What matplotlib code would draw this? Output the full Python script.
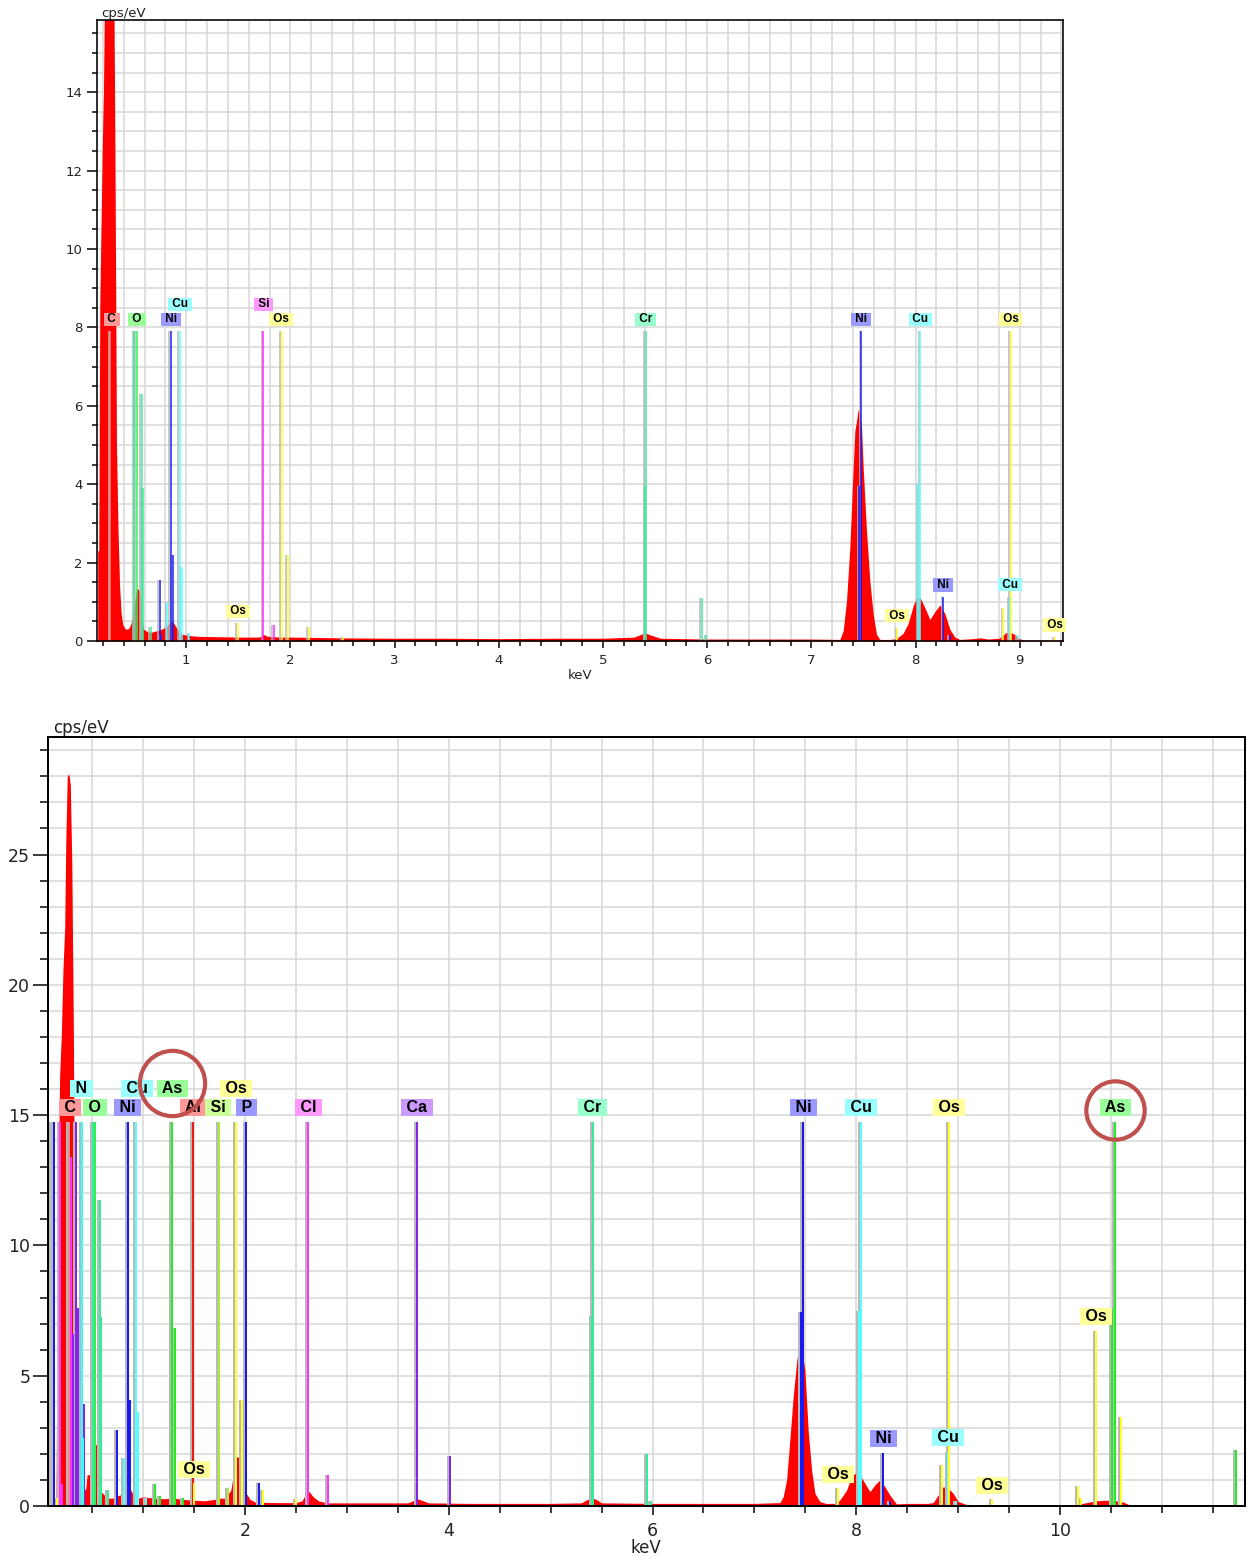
import matplotlib
matplotlib.use("Agg")
import matplotlib.pyplot as plt
from matplotlib import transforms
from matplotlib.ticker import MultipleLocator

# ---------------------------------------------------------------- data
# top spectrum (keV, cps/eV)
top_spectrum = [
    (0.150, 2.3), (0.160, 2.3), (0.170, 8.6), (0.185, 11.2), (0.195, 12.8),
    (0.205, 14.0), (0.215, 16.5), (0.240, 21.0), (0.270, 24.0), (0.290, 21.0),
    (0.305, 16.5), (0.315, 12.7), (0.330, 5.0), (0.345, 2.8), (0.360, 1.4),
    (0.375, 0.7), (0.390, 0.42), (0.410, 0.32), (0.430, 0.30), (0.450, 0.33),
    (0.470, 0.45), (0.490, 0.75), (0.510, 1.1), (0.525, 1.35), (0.545, 1.3),
    (0.560, 1.15), (0.575, 0.5), (0.590, 0.3), (0.620, 0.25), (0.660, 0.22),
    (0.700, 0.25), (0.740, 0.28), (0.780, 0.32), (0.820, 0.40), (0.860, 0.52),
    (0.880, 0.45), (0.910, 0.32), (0.950, 0.18), (1.000, 0.15), (1.100, 0.12),
    (1.300, 0.11), (1.500, 0.10), (1.700, 0.10), (1.740, 0.17), (1.780, 0.12),
    (1.900, 0.10), (2.000, 0.10), (2.500, 0.08), (3.000, 0.07), (3.500, 0.07),
    (4.000, 0.06), (4.500, 0.07), (5.000, 0.07), (5.300, 0.10), (5.400, 0.21),
    (5.460, 0.15), (5.550, 0.07), (6.000, 0.05), (6.500, 0.05), (7.000, 0.05),
    (7.273, 0.04), (7.305, 0.26), (7.337, 1.02), (7.369, 2.38), (7.401, 4.42),
    (7.417, 5.36), (7.433, 5.61), (7.449, 5.91), (7.465, 5.82), (7.481, 5.44),
    (7.497, 4.42), (7.529, 2.81), (7.561, 1.53), (7.593, 0.68), (7.625, 0.17),
    (7.657, 0.04), (7.750, 0.04), (7.817, 0.06), (7.881, 0.20), (7.929, 0.45),
    (7.977, 0.90), (8.009, 1.10), (8.041, 1.12), (8.089, 0.85), (8.137, 0.55),
    (8.185, 0.75), (8.233, 0.92), (8.281, 0.70), (8.329, 0.30), (8.377, 0.10),
    (8.425, 0.04), (8.550, 0.06), (8.620, 0.08), (8.700, 0.05), (8.800, 0.07),
    (8.840, 0.15), (8.870, 0.22), (8.910, 0.22), (8.950, 0.17), (8.990, 0.06),
    (9.050, 0.02), (9.415, 0.02),
]

# top element marker lines
top_lines_element = ['C', 'Cr', 'O', 'Cr', 'Cr', 'Cr', 'Ni', 'Ni', 'Ni', 'Ni',
                     'Cu', 'Cu', 'Cu', 'Cu', 'Os', 'Si', 'Si', 'Os', 'Os', 'Os',
                     'Os', 'Cr', 'Cr', 'Cr', 'Cr', 'Ni', 'Ni', 'Ni', 'Ni',
                     'Cu', 'Cu', 'Cu', 'Cu', 'Os', 'Os', 'Os', 'Os']
top_lines_keV = [0.272, 0.500, 0.525, 0.573, 0.583, 0.658, 0.744, 0.760, 0.850, 0.872,
                 0.818, 0.936, 0.958, 1.030, 1.495, 1.741, 1.840, 1.917, 1.974, 2.176,
                 2.500, 5.405, 5.412, 5.946, 5.990, 7.461, 7.478, 8.265, 8.330,
                 8.028, 8.047, 8.905, 8.980, 7.822, 8.840, 8.912, 9.335]
top_lines_height = [7.9, 7.9, 7.9, 6.3, 3.9, 0.35, 1.55, 0.15, 7.9, 2.2,
                    1.0, 7.9, 1.9, 0.2, 0.45, 7.9, 0.4, 7.9, 2.2, 0.35,
                    0.1, 3.95, 7.9, 1.09, 0.15, 3.95, 7.9, 1.12, 0.15,
                    4.0, 7.9, 1.13, 0.15, 0.34, 0.84, 7.9, 0.1]

# top labels
top_labels_element = ['C', 'O', 'Ni', 'Cu', 'Si', 'Os', 'Os', 'Cr', 'Ni', 'Cu',
                      'Os', 'Os', 'Ni', 'Cu', 'Os']
top_labels_keV = [0.285, 0.527, 0.855, 0.940, 1.741, 1.910, 1.495, 5.412, 7.478, 8.047,
                  8.912, 7.822, 8.265, 8.905, 9.335]
top_labels_height = [7.9, 7.9, 7.9, 7.9, 7.9, 7.9, 0.45, 7.9, 7.9, 7.9,
                     7.9, 0.34, 1.12, 1.13, 0.1]
top_labels_row = [0, 0, 0, 1, 1, 0, 0, 0, 0, 0, 0, 0, 0, 0, 0]

# bottom spectrum (keV, cps/eV)
bottom_spectrum = [
    (0.066, 0.6), (0.090, 0.6), (0.100, 0.3), (0.145, 0.3), (0.160, 10.3),
    (0.180, 16.5), (0.197, 18.1), (0.213, 20.6), (0.230, 22.2), (0.240, 25.4),
    (0.255, 28.0), (0.270, 28.1), (0.285, 27.7), (0.300, 24.6), (0.315, 18.3),
    (0.330, 8.0), (0.345, 3.0), (0.360, 1.2), (0.375, 1.1), (0.390, 0.75),
    (0.420, 0.70), (0.435, 0.60), (0.450, 1.2), (0.478, 1.2), (0.500, 2.0),
    (0.528, 2.4), (0.550, 2.3), (0.570, 0.55), (0.600, 0.50), (0.650, 0.30),
    (0.700, 0.30), (0.750, 0.40), (0.800, 0.45), (0.850, 0.60), (0.870, 0.68),
    (0.900, 0.45), (0.950, 0.30), (1.000, 0.35), (1.100, 0.30), (1.200, 0.28),
    (1.300, 0.30), (1.400, 0.25), (1.500, 0.22), (1.600, 0.20), (1.700, 0.25),
    (1.750, 0.30), (1.800, 0.30), (1.860, 0.60), (1.890, 1.3), (1.920, 1.9),
    (1.950, 1.85), (1.980, 1.35), (2.010, 0.50), (2.050, 0.25), (2.100, 0.15),
    (2.300, 0.13), (2.500, 0.13), (2.560, 0.20), (2.600, 0.50), (2.630, 0.55),
    (2.670, 0.35), (2.720, 0.20), (2.800, 0.12), (3.000, 0.12), (3.300, 0.12),
    (3.600, 0.12), (3.660, 0.22), (3.700, 0.27), (3.750, 0.20), (3.800, 0.12),
    (4.200, 0.10), (4.600, 0.10), (5.000, 0.10), (5.300, 0.12), (5.360, 0.25),
    (5.400, 0.32), (5.450, 0.25), (5.500, 0.12), (6.000, 0.10), (6.500, 0.10),
    (7.000, 0.10), (7.250, 0.13), (7.283, 0.36), (7.316, 1.0), (7.348, 2.53),
    (7.381, 4.2), (7.414, 5.5), (7.440, 6.3), (7.463, 6.1), (7.496, 5.2),
    (7.528, 2.9), (7.561, 1.4), (7.594, 0.49), (7.643, 0.17), (7.700, 0.10),
    (7.800, 0.10), (7.839, 0.23), (7.905, 0.61), (7.954, 1.13), (7.987, 1.25),
    (8.036, 1.19), (8.085, 0.87), (8.134, 0.55), (8.183, 0.81), (8.232, 1.0),
    (8.281, 0.74), (8.330, 0.42), (8.395, 0.08), (8.500, 0.10), (8.700, 0.10),
    (8.755, 0.13), (8.804, 0.42), (8.853, 0.74), (8.902, 0.68), (8.951, 0.49),
    (9.000, 0.17), (9.080, 0.06), (9.500, 0.05), (10.000, 0.05), (10.150, 0.05),
    (10.250, 0.12), (10.350, 0.20), (10.450, 0.22), (10.550, 0.20), (10.620, 0.15),
    (10.680, 0.05), (11.000, 0.03), (11.816, 0.02),
]

# bottom element marker lines
bottom_lines_element = ['gray', 'P', 'Os', 'Cl', 'Cl', 'C', 'Cl', 'Ca', 'Ca', 'Ca',
                        'Ca', 'N', 'N', 'Cr', 'O', 'O', 'Cr', 'Cr', 'Cr',
                        'Ni', 'Ni', 'Ni', 'Cu', 'Cu', 'Cu', 'Cu',
                        'As', 'As', 'As', 'As', 'As', 'Al', 'Os', 'Si', 'Si',
                        'Os', 'Os', 'P', 'P', 'Os', 'Os', 'Cl', 'Cl', 'Cl',
                        'Ca', 'Ca', 'Cr', 'Cr', 'Cr', 'Cr',
                        'Ni', 'Ni', 'Ni', 'Ni', 'Os', 'Cu', 'Cu', 'Cu', 'Cu',
                        'Os', 'Os', 'Os', 'Os', 'Os', 'Os', 'Os', 'Os',
                        'As', 'As', 'As']
bottom_lines_keV = [0.093, 0.128, 0.158, 0.185, 0.200, 0.277, 0.296, 0.315, 0.341, 0.357,
                    0.423, 0.397, 0.410, 0.505, 0.525, 0.530, 0.573, 0.583, 0.652,
                    0.747, 0.851, 0.868, 0.811, 0.930, 0.950, 1.030,
                    1.120, 1.166, 1.282, 1.317, 1.390, 1.486, 1.502, 1.740, 1.836,
                    1.910, 1.975, 2.013, 2.139, 2.180, 2.500, 2.617, 2.622, 2.815,
                    3.690, 4.012, 5.405, 5.412, 5.946, 5.990,
                    7.460, 7.478, 8.264, 8.330, 7.822, 8.027, 8.047, 8.905, 8.980,
                    8.840, 8.912, 9.335, 10.178, 10.210, 10.355, 10.510, 10.600,
                    10.508, 10.544, 11.726]
bottom_lines_height = [14.75, 14.75, 0.3, 14.75, 0.85, 14.75, 13.4, 6.6, 14.75, 7.6,
                       3.9, 14.75, 2.6, 14.75, 14.75, 2.4, 11.75, 7.26, 0.6,
                       2.9, 14.75, 4.07, 1.83, 14.75, 3.62, 0.3,
                       0.85, 0.38, 14.75, 6.83, 0.3, 14.75, 0.87, 14.75, 0.7,
                       14.75, 4.07, 14.75, 0.9, 0.6, 0.25, 7.4, 14.75, 1.2,
                       14.75, 1.9, 7.3, 14.75, 2.0, 0.2,
                       7.45, 14.75, 2.05, 0.2, 0.68, 7.5, 14.75, 2.08, 0.2,
                       1.57, 14.75, 0.25, 0.77, 0.3, 6.73, 1.13, 3.4,
                       7.55, 14.75, 2.15]

# bottom labels
bottom_labels_element = ['N', 'C', 'O', 'Ni', 'Cu', 'As', 'Al', 'Si', 'Os', 'P',
                         'Cl', 'Ca', 'Cr', 'Ni', 'Cu', 'Os', 'As',
                         'Os', 'Os', 'Ni', 'Cu', 'Os', 'Os']
bottom_labels_keV = [0.397, 0.284, 0.527, 0.850, 0.937, 1.287, 1.490, 1.738, 1.909, 2.017,
                     2.622, 3.690, 5.410, 7.478, 8.047, 8.912, 10.544,
                     1.502, 7.822, 8.264, 8.900, 9.335, 10.355]
bottom_labels_height = [14.75, 14.75, 14.75, 14.75, 14.75, 14.75, 14.75, 14.75, 14.75, 14.75,
                        14.75, 14.75, 14.75, 14.75, 14.75, 14.75, 14.75,
                        0.87, 0.68, 2.05, 2.08, 0.25, 6.73]
bottom_labels_row = [1, 0, 0, 0, 1, 1, 0, 0, 1, 0,
                     0, 0, 0, 0, 0, 0, 0,
                     0, 0, 0, 0, 0, 0]

# highlighted (circled) labels in the bottom chart
circled_keV = [1.287, 10.544]
circled_height = [14.75, 14.75]
circled_row = [1, 0]

# ---------------------------------------------------------------- styles
LINE_COL = {'C': '#f08a8a', 'N': '#33ffff', 'O': '#33ee55', 'Ni': '#1a1aee',
            'Cu': '#55ffff', 'As': '#22ee22', 'Al': '#ee1a1a', 'Si': '#aaee33',
            'P': '#1a1aee', 'Cl': '#ff33ff', 'Ca': '#8a22ee', 'Cr': '#33ee99',
            'Os': '#ffff22', 'gray': '#bbbbbb'}
LABEL_COL = {'C': '#ff9999', 'N': '#99ffff', 'O': '#99ff99', 'Ni': '#9999ff',
             'Cu': '#99ffff', 'As': '#99ff99', 'Al': '#ff9999', 'Si': '#ccff99',
             'P': '#9999ff', 'Cl': '#ff99ff', 'Ca': '#cc99ff', 'Cr': '#99ffcc',
             'Os': '#ffff99'}
TOP_LINE_COL = dict(LINE_COL, Si='#ff22ff')
TOP_LABEL_COL = dict(LABEL_COL, Si='#ff99ff')

W, H = 1253, 1559
DPI = 100
fig = plt.figure(figsize=(W / DPI, H / DPI), dpi=DPI)
px = 72.0 / DPI  # points per pixel


def axes_rect(l, t, r, b):
    return [l / W, 1 - b / H, (r - l) / W, (b - t) / H]


ax1 = fig.add_axes(axes_rect(97, 20, 1063, 641))
ax2 = fig.add_axes(axes_rect(48, 737, 1245, 1506))


def draw_panel(ax, spectrum, l_el, l_kev, l_h, lab_el, lab_kev, lab_h, lab_row,
               line_col, label_col, lab_fs, row_off, line_w):
    e = [p[0] for p in spectrum]
    c = [p[1] for p in spectrum]
    ax.fill_between(e, 0, c, color='#ff0000', lw=0, zorder=2)
    gray_tr = transforms.offset_copy(ax.transData, fig=fig, x=-line_w, y=0, units='dots')
    for el, k, h in zip(l_el, l_kev, l_h):
        ax.plot([k, k], [0, h], color='#b8b8b8', lw=line_w * px, zorder=3,
                transform=gray_tr, solid_capstyle='butt')
        ax.plot([k, k], [0, h], color=line_col[el], lw=line_w * px, zorder=4,
                solid_capstyle='butt')
    for el, k, h, r in zip(lab_el, lab_kev, lab_h, lab_row):
        ax.annotate(' ' + el + ' ', xy=(k, h), xytext=(0, row_off[r] * px),
                    textcoords='offset points', ha='center', va='center',
                    fontsize=lab_fs, fontweight='bold', family='Liberation Sans',
                    color='black', zorder=6, annotation_clip=False,
                    bbox=dict(boxstyle='square,pad=0.06', fc=label_col[el], ec='none'))


draw_panel(ax1, top_spectrum, top_lines_element, top_lines_keV, top_lines_height,
           top_labels_element, top_labels_keV, top_labels_height, top_labels_row,
           TOP_LINE_COL, TOP_LABEL_COL, 8.5, [12, 27], 1.5)
draw_panel(ax2, bottom_spectrum, bottom_lines_element, bottom_lines_keV, bottom_lines_height,
           bottom_labels_element, bottom_labels_keV, bottom_labels_height, bottom_labels_row,
           LINE_COL, LABEL_COL, 11.5, [14, 33], 2.0)

# circles round the As labels
for k, h, r, size in zip(circled_keV, circled_height, circled_row, [47, 42]):
    off = [14, 33][r] + (6 if r == 1 else -2)
    tr = transforms.offset_copy(ax2.transData, fig=fig, x=0, y=off * px, units='points')
    ax2.plot([k], [h], marker='o', ms=size, mfc='none', mec='#c0504d', mew=3.0,
             transform=tr, zorder=10, clip_on=False)

# axes styling
ax1.set_xlim(0.143, 9.415)
ax1.set_ylim(0, 15.84)
ax1.xaxis.set_major_locator(MultipleLocator(1))
ax1.xaxis.set_minor_locator(MultipleLocator(0.2))
ax1.yaxis.set_major_locator(MultipleLocator(2))
ax1.yaxis.set_minor_locator(MultipleLocator(0.5))

ax2.set_xlim(0.066, 11.816)
ax2.set_ylim(0, 29.51)
ax2.xaxis.set_major_locator(MultipleLocator(2))
ax2.xaxis.set_minor_locator(MultipleLocator(0.5))
ax2.yaxis.set_major_locator(MultipleLocator(5))
ax2.yaxis.set_minor_locator(MultipleLocator(1))

for ax, fs, spw, ylen, ylenm, xlen, xlenm, xpad, ypad in [
        (ax1, 9.5, 1.6, 10, 5, 7, 5, 4, 3),
        (ax2, 12.5, 2.0, 15, 8, 9, 7, 5, 2)]:
    ax.set_axisbelow(True)
    ax.grid(which='both', color='#d9d9d9', lw=1.6 * px, zorder=0)
    for s in ax.spines.values():
        s.set_color('black')
        s.set_linewidth(spw * px)
        s.set_zorder(5)
    ax.tick_params(axis='both', which='both', direction='out', color='black',
                   width=1.5 * px, labelcolor='#222222', labelsize=fs)
    ax.tick_params(axis='y', which='major', length=ylen * px, pad=ypad)
    ax.tick_params(axis='y', which='minor', length=ylenm * px)
    ax.tick_params(axis='x', which='major', length=xlen * px, pad=xpad)
    ax.tick_params(axis='x', which='minor', length=xlenm * px)

ax1.set_xticks([1, 2, 3, 4, 5, 6, 7, 8, 9])
ax1.set_xticklabels(['1', '2', '3', '4', '5', '6', '7', '8', '9'])
ax2.set_xticks([2, 4, 6, 8, 10])
ax2.set_xticklabels(['2', '4', '6', '8', '10'])

ax1.text(0.004, 1.0, 'cps/eV', transform=ax1.transAxes, ha='left', va='bottom',
         fontsize=9.5, color='#222222')
ax2.text(0.004, 1.0, 'cps/eV', transform=ax2.transAxes, ha='left', va='bottom',
         fontsize=12, color='#222222')
fig.text(580 / W, 1 - 675 / H, 'keV', ha='center', va='center', fontsize=9.5, color='#222222')
fig.text(646 / W, 1 - 1548 / H, 'keV', ha='center', va='center', fontsize=12, color='#222222')

fig.savefig('out.png', dpi=DPI, facecolor='white')
